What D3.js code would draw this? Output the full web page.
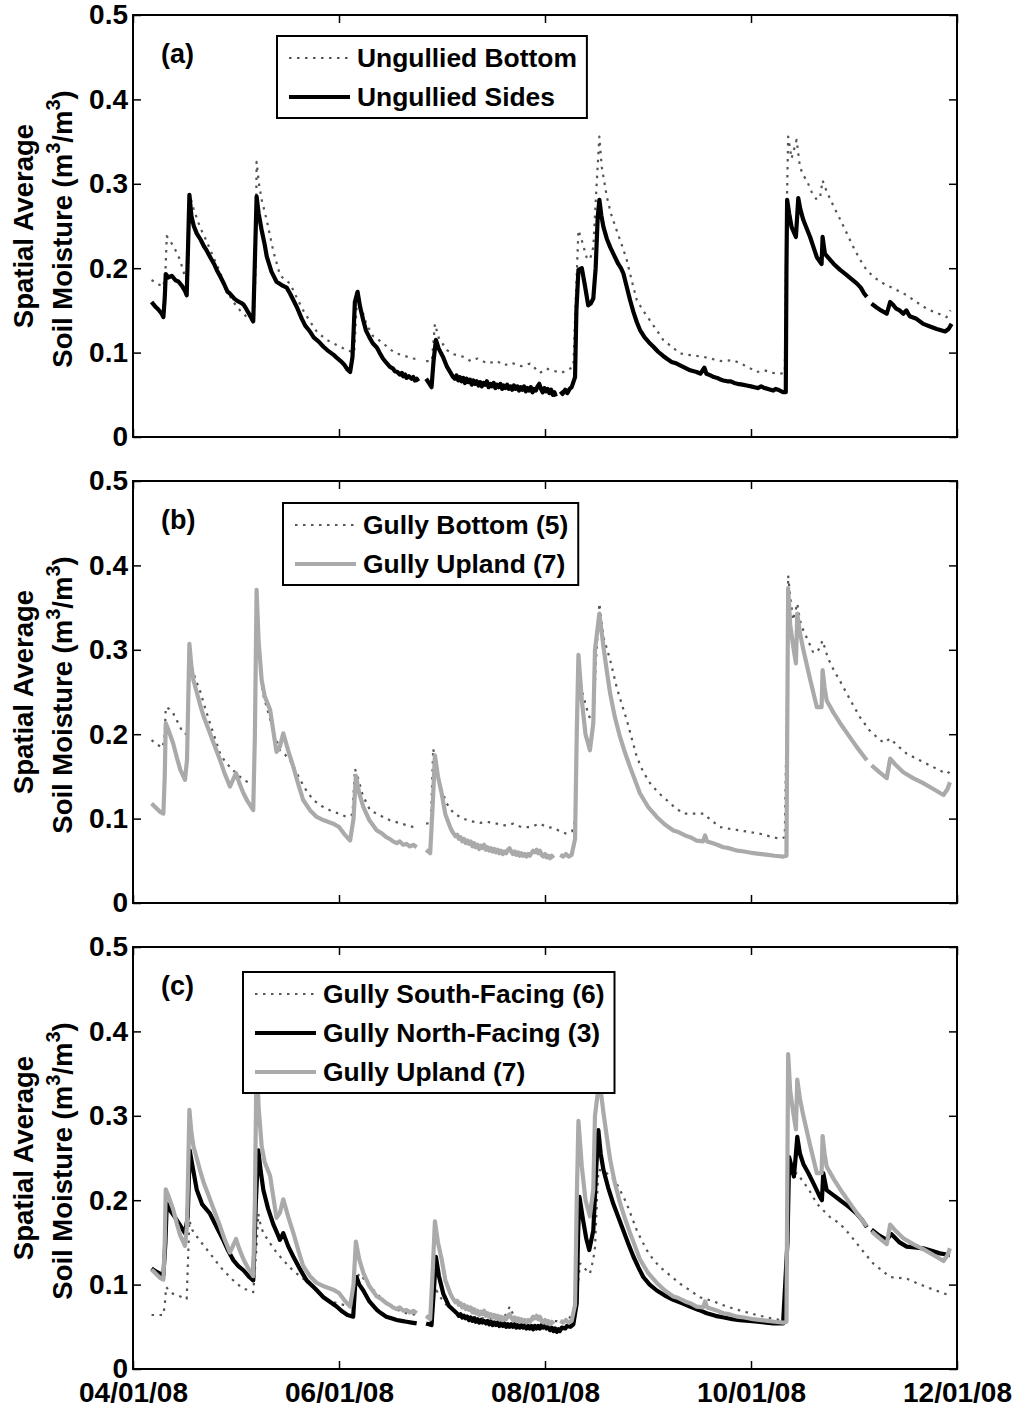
<!DOCTYPE html>
<html>
<head>
<meta charset="utf-8">
<script src="https://cdn.jsdelivr.net/npm/d3@7"></script>
<style>
  body { margin: 0; background: #fff; }
  svg { display: block; font-family: "Liberation Sans", Arial, Helvetica, sans-serif; font-weight: bold; }
</style>
</head>
<body>
<svg id="chart" width="1021" height="1410"></svg>
<script>
// Soil moisture time series, [days since 04/01/08, m3/m3]; null marks a data gap.
const ungulliedBottom = [[5.5,.186],[7.0,.182],[9.0,.178],[9.6,.195],[10.0,.238],[11.5,.229],[12.5,.222],[13.9,.210],[15.4,.190],[16.2,.182],[16.7,.270],[17.2,.281],[17.9,.271],[19.8,.249],[21.8,.232],[23.8,.213],[25.8,.195],[27.7,.174],[29.7,.160],[31.7,.150],[33.0,.145],[34.1,.140],[35.8,.138],[36.3,.200],[36.6,.326],[37.3,.300],[38.1,.281],[39.6,.257],[41.5,.221],[43.5,.192],[45.0,.186],[46.5,.182],[48.5,.165],[50.4,.150],[52.4,.137],[54.4,.125],[57.0,.116],[59.3,.111],[61.3,.107],[63.3,.103],[65.5,.100],[66.0,.140],[66.5,.172],[67.5,.155],[69.0,.135],[71.0,.120],[74.1,.111],[76.0,.104],[78.1,.099],[80.5,.096],[83.0,.093],[84.5,.092],[85.5,null],[86.8,.090],[88.5,.090],[89.4,.134],[90.5,.118],[92.9,.103],[95.0,.098],[97.8,.095],[100.0,.090],[102.0,.093],[105.0,.087],[107.7,.090],[110.0,.085],[112.0,.088],[115.0,.084],[117.6,.087],[120.5,.076],[122.5,.081],[124.0,.079],[126.9,.076],[128.4,.079],[130.4,.083],[131.0,.150],[131.9,.245],[132.9,.233],[134.3,.213],[135.3,.210],[136.3,.225],[137.3,.300],[138.1,.356],[138.8,.320],[140.3,.285],[141.5,.265],[143.2,.245],[144.7,.228],[146.2,.210],[147.7,.185],[149.2,.162],[151.0,.150],[153.1,.138],[155.0,.127],[157.0,.115],[159.5,.107],[162.0,.099],[165.0,.097],[168.9,.095],[171.0,.093],[174.0,.090],[177.8,.091],[180.0,.087],[182.5,.082],[184.7,.077],[187.0,.079],[189.5,.076],[191.6,.075],[193.0,.076],[193.5,.250],[194.0,.356],[195.0,.330],[196.5,.352],[197.5,.320],[198.5,.310],[199.5,.304],[201.0,.290],[202.5,.281],[203.5,.285],[204.2,.304],[205.5,.290],[207.5,.273],[209.5,.257],[211.4,.241],[213.3,.225],[215.3,.210],[217.2,.198],[219.2,.190],[221.7,.183],[224.2,.178],[226.7,.173],[229.1,.168],[232.0,.160],[235.0,.152],[238.0,.147],[240.9,.142],[242.1,.150]];

const ungulliedSides = [[5.5,.160],[6.5,.155],[7.5,.151],[8.5,.146],[9.0,.142],[9.4,.165],[9.7,.193],[10.5,.189],[11.5,.191],[12.5,.186],[13.5,.184],[14.5,.179],[15.4,.173],[15.9,.168],[16.3,.225],[16.7,.287],[17.3,.262],[18.0,.250],[18.9,.241],[20.0,.234],[21.0,.226],[21.8,.221],[23.0,.212],[24.0,.205],[24.8,.198],[26.0,.189],[27.0,.181],[28.0,.172],[28.7,.170],[30.0,.164],[31.0,.161],[32.0,.159],[32.7,.157],[33.5,.152],[34.5,.145],[35.6,.137],[36.1,.210],[36.6,.285],[37.2,.265],[38.1,.245],[39.0,.228],[39.6,.214],[41.0,.196],[42.5,.184],[44.0,.180],[45.5,.177],[46.5,.170],[47.5,.162],[48.5,.154],[50.0,.140],[51.0,.132],[52.4,.125],[53.5,.118],[55.0,.113],[56.4,.107],[57.5,.103],[58.5,.100],[59.5,.097],[60.3,.094],[61.5,.090],[62.5,.086],[63.5,.080],[64.3,.077],[65.0,.095],[65.7,.160],[66.5,.172],[67.2,.155],[68.2,.138],[69.0,.126],[70.0,.118],[71.0,.111],[72.2,.106],[73.0,.100],[74.0,.093],[75.0,.088],[76.1,.083],[77.0,.081],[77.5,.078],[78.3,.077],[79.0,.074],[79.6,.076],[80.0,.072],[80.6,.074],[81.0,.070],[81.7,.072],[82.5,.069],[83.0,.071],[83.5,.067],[84.0,.069],[84.5,.066],[85.5,null],[86.8,.069],[87.8,.063],[88.4,.059],[89.0,.090],[89.7,.115],[90.5,.105],[91.9,.094],[93.0,.083],[94.8,.071],[95.3,.069],[95.8,.073],[96.3,.067],[96.8,.071],[97.3,.066],[97.8,.070],[98.3,.064],[98.8,.069],[99.3,.065],[99.8,.068],[100.3,.062],[100.8,.067],[101.3,.063],[101.8,.066],[102.3,.061],[102.8,.065],[103.3,.060],[103.8,.064],[104.3,.062],[104.8,.066],[105.3,.059],[105.8,.063],[106.3,.060],[106.8,.064],[107.3,.058],[107.8,.062],[108.3,.059],[108.8,.063],[109.3,.057],[109.8,.061],[110.3,.058],[110.8,.062],[111.3,.057],[111.8,.060],[112.3,.056],[112.8,.061],[113.3,.057],[113.8,.060],[114.3,.055],[114.8,.059],[115.3,.056],[115.8,.060],[116.3,.054],[116.8,.058],[117.3,.055],[117.8,.059],[118.3,.053],[118.8,.057],[119.3,.055],[119.8,.060],[120.3,.063],[120.8,.057],[121.3,.053],[121.8,.058],[122.3,.054],[122.8,.057],[123.3,.052],[123.8,.056],[124.3,.050],[124.8,.053],[125.2,.048],[125.8,null],[126.6,.054],[127.2,.051],[128.0,.056],[128.6,.052],[129.3,.057],[129.9,.059],[130.9,.071],[131.3,.150],[131.9,.198],[132.9,.200],[133.8,.180],[134.8,.156],[135.5,.158],[136.3,.164],[137.0,.200],[137.6,.260],[138.1,.281],[138.7,.262],[139.3,.249],[140.3,.235],[141.3,.225],[142.5,.215],[143.7,.205],[144.5,.200],[145.2,.194],[146.2,.178],[147.2,.162],[148.2,.148],[149.2,.136],[150.1,.127],[151.5,.118],[152.8,.112],[154.1,.107],[155.5,.101],[157.0,.096],[158.0,.093],[159.5,.089],[161.0,.087],[162.0,.085],[163.5,.082],[165.0,.079],[166.9,.077],[168.0,.075],[169.2,.082],[169.8,.075],[171.0,.073],[172.0,.071],[173.0,.070],[174.0,.068],[174.8,.067],[176.0,.066],[177.0,.066],[178.0,.064],[179.0,.063],[180.5,.062],[181.7,.061],[183.0,.060],[184.0,.059],[185.0,.058],[186.0,.060],[187.0,.058],[188.0,.057],[189.6,.055],[190.3,.057],[191.0,.056],[192.0,.054],[192.6,.053],[193.3,.053],[193.5,.200],[193.7,.281],[194.3,.265],[195.0,.249],[196.3,.237],[197.0,.283],[197.6,.270],[198.5,.257],[199.5,.247],[200.5,.237],[201.5,.225],[202.5,.213],[203.9,.205],[204.2,.237],[204.6,.225],[204.9,.217],[206.0,.212],[207.5,.205],[209.4,.198],[211.0,.193],[212.5,.188],[214.3,.182],[215.5,.177],[216.5,.170],[217.3,.166],[218.0,null],[218.7,.158],[220.0,.154],[221.5,.150],[223.2,.146],[224.2,.160],[225.0,.157],[226.0,.152],[227.0,.150],[228.1,.146],[229.0,.150],[230.0,.143],[232.0,.140],[234.0,.134],[236.0,.131],[238.0,.128],[240.5,.125],[241.5,.128],[242.4,.134]];

const gullyBottom = [[5.5,.193],[7.0,.188],[8.8,.184],[9.4,.200],[9.7,.232],[10.8,.230],[11.9,.225],[13.5,.212],[14.9,.201],[16.2,.200],[16.7,.270],[17.4,.280],[18.5,.265],[19.8,.252],[21.3,.232],[22.8,.213],[24.3,.195],[25.8,.177],[27.2,.168],[28.7,.161],[30.7,.153],[32.7,.146],[34.6,.142],[36.0,.145],[36.6,.360],[37.3,.300],[38.3,.250],[39.6,.232],[41.5,.205],[43.5,.181],[45.0,.176],[46.5,.169],[48.0,.158],[49.5,.146],[51.5,.132],[53.4,.122],[55.8,.115],[58.3,.110],[60.8,.106],[63.3,.102],[65.0,.105],[65.7,.159],[66.5,.150],[68.0,.128],[70.2,.110],[73.0,.104],[76.1,.098],[79.5,.094],[83.0,.090],[84.5,.090],[85.5,null],[86.8,.094],[88.2,.095],[88.9,.183],[89.8,.160],[90.8,.140],[92.9,.118],[95.0,.106],[97.8,.100],[100.0,.097],[102.7,.095],[105.0,.096],[107.7,.094],[110.0,.092],[112.6,.094],[115.0,.090],[117.6,.090],[120.5,.094],[122.5,.090],[124.5,.089],[126.5,.085],[128.4,.082],[130.0,.085],[130.9,.098],[131.5,.200],[132.0,.280],[133.0,.250],[134.8,.224],[136.3,.210],[137.0,.280],[138.1,.355],[139.3,.315],[141.3,.288],[143.2,.256],[144.7,.236],[146.2,.217],[147.7,.195],[149.2,.173],[151.0,.156],[153.1,.142],[155.5,.131],[158.0,.122],[160.5,.113],[163.0,.106],[166.0,.106],[168.9,.106],[171.5,.097],[173.8,.090],[176.5,.088],[179.7,.086],[182.7,.084],[185.7,.082],[188.5,.079],[191.6,.076],[193.0,.078],[193.7,.250],[194.0,.388],[194.7,.360],[195.5,.335],[196.7,.355],[197.5,.335],[198.5,.323],[200.0,.310],[201.5,.296],[203.0,.300],[204.2,.311],[205.8,.290],[207.5,.276],[209.5,.262],[211.4,.248],[213.3,.234],[215.3,.220],[218.0,.205],[221.2,.193],[222.5,.190],[224.2,.195],[226.5,.186],[229.1,.177],[232.0,.171],[235.0,.165],[238.0,.159],[240.9,.153],[242.0,.156]];

const gullyUpland = [[5.5,.118],[7.0,.112],[8.0,.108],[9.0,.106],[9.4,.150],[9.7,.213],[10.5,.205],[11.9,.189],[13.0,.172],[14.0,.158],[15.4,.146],[16.0,.170],[16.7,.307],[17.3,.280],[17.9,.264],[19.0,.248],[19.8,.236],[21.0,.220],[22.8,.201],[24.0,.188],[25.8,.169],[27.0,.155],[28.7,.138],[29.5,.145],[30.5,.154],[31.5,.142],[32.7,.130],[34.0,.120],[35.6,.110],[36.1,.200],[36.6,.371],[37.2,.310],[38.1,.264],[39.0,.245],[40.6,.229],[41.5,.205],[42.5,.179],[43.5,.185],[44.5,.201],[46.0,.180],[47.5,.161],[49.0,.140],[50.4,.122],[52.4,.110],[54.4,.102],[56.5,.098],[59.3,.094],[61.0,.090],[62.5,.082],[64.3,.074],[65.3,.100],[66.0,.151],[67.0,.130],[68.2,.114],[70.0,.098],[72.2,.086],[73.5,.083],[75.0,.078],[76.0,.076],[77.0,.073],[78.1,.071],[79.0,.073],[80.0,.069],[81.0,.070],[82.0,.067],[83.0,.069],[84.0,.066],[85.5,null],[86.8,.063],[88.0,.059],[88.8,.120],[89.4,.175],[90.3,.150],[91.4,.130],[92.5,.105],[93.9,.090],[94.5,.085],[95.0,.082],[95.5,.079],[96.0,.081],[96.5,.076],[97.0,.078],[97.5,.073],[98.0,.076],[98.5,.071],[99.0,.074],[99.5,.070],[100.0,.073],[100.5,.067],[101.0,.071],[101.5,.066],[102.0,.069],[102.5,.064],[103.0,.068],[103.5,.065],[104.0,.069],[104.5,.063],[105.0,.066],[105.5,.062],[106.0,.065],[106.5,.061],[107.0,.064],[107.5,.060],[108.0,.063],[108.5,.059],[109.0,.062],[109.5,.058],[110.0,.061],[110.5,.059],[111.0,.063],[111.5,.065],[112.0,.061],[112.5,.058],[113.0,.061],[113.5,.057],[114.0,.060],[114.5,.056],[115.0,.059],[115.5,.056],[116.0,.058],[116.5,.055],[117.0,.058],[117.5,.056],[118.0,.059],[118.5,.062],[119.0,.060],[119.5,.063],[120.0,.059],[120.5,.062],[121.0,.057],[121.5,.055],[122.0,.058],[122.5,.054],[123.0,.056],[123.5,.053],[124.0,.056],[124.5,.053],[125.5,null],[126.5,.057],[127.4,.055],[128.2,.058],[129.0,.055],[129.9,.057],[130.9,.076],[131.4,.200],[131.9,.294],[132.9,.240],[134.0,.200],[135.3,.181],[136.3,.213],[136.8,.300],[138.1,.343],[139.3,.304],[140.3,.275],[141.3,.248],[142.7,.220],[144.2,.197],[145.7,.178],[147.2,.161],[148.7,.145],[150.1,.130],[152.5,.114],[155.1,.102],[157.5,.093],[160.0,.086],[161.5,.084],[163.5,.080],[165.0,.078],[166.9,.074],[168.8,.073],[169.4,.080],[170.0,.073],[171.5,.071],[173.0,.069],[174.8,.066],[176.5,.065],[178.0,.063],[179.0,.062],[181.0,.061],[183.7,.059],[186.0,.058],[188.0,.057],[190.0,.056],[192.6,.055],[193.5,.056],[193.8,.250],[194.0,.373],[194.6,.330],[195.5,.304],[196.3,.284],[196.7,.343],[197.5,.320],[198.5,.300],[200.5,.265],[202.5,.232],[203.9,.232],[204.2,.276],[204.8,.255],[205.4,.240],[207.5,.225],[209.4,.213],[212.0,.198],[214.3,.185],[216.0,.176],[217.3,.169],[218.0,null],[218.7,.163],[221.0,.155],[223.2,.148],[224.2,.171],[225.5,.165],[228.1,.155],[231.0,.148],[234.0,.142],[237.0,.135],[240.0,.128],[241.2,.135],[241.9,.143]];

const gullySouth = [[5.5,.064],[7.0,.064],[9.0,.064],[9.5,.080],[9.8,.097],[10.8,.093],[11.9,.089],[14.0,.086],[15.9,.083],[16.3,.130],[16.7,.176],[17.5,.165],[18.9,.157],[20.8,.147],[22.8,.137],[24.7,.127],[26.7,.117],[28.7,.109],[30.7,.101],[33.0,.095],[35.6,.091],[36.5,.140],[37.1,.184],[37.8,.170],[38.6,.161],[40.6,.149],[42.5,.138],[44.5,.129],[46.5,.120],[48.5,.113],[50.4,.107],[52.4,.101],[54.4,.093],[56.4,.085],[58.3,.081],[60.3,.078],[62.3,.076],[64.3,.074],[65.5,.090],[66.5,.110],[67.2,.113],[68.7,.105],[70.2,.098],[72.0,.090],[74.1,.082],[77.0,.072],[81.0,.066],[84.0,.064],[85.5,null],[86.8,.062],[88.3,.062],[89.3,.090],[89.9,.093],[91.0,.085],[93.0,.075],[96.0,.066],[100.0,.062],[104.0,.060],[108.0,.060],[110.0,.062],[111.6,.074],[113.0,.060],[116.0,.058],[119.0,.058],[120.5,.058],[124.0,.057],[128.4,.056],[131.0,.070],[132.0,.110],[132.4,.125],[133.5,.120],[135.3,.113],[136.3,.130],[136.8,.144],[137.4,.200],[137.8,.236],[139.0,.235],[140.3,.232],[141.8,.227],[143.2,.220],[144.7,.208],[146.2,.196],[147.7,.180],[149.2,.164],[150.7,.152],[152.1,.141],[154.0,.130],[156.0,.121],[159.0,.111],[162.0,.101],[165.0,.093],[167.9,.085],[172.0,.080],[175.8,.074],[180.0,.069],[184.7,.064],[188.0,.061],[191.6,.058],[193.0,.058],[193.7,.130],[194.3,.240],[195.1,.228],[196.5,.232],[198.5,.222],[200.5,.210],[202.5,.196],[204.4,.188],[206.4,.180],[208.3,.175],[210.3,.168],[212.3,.159],[214.3,.149],[216.7,.137],[219.2,.125],[221.7,.117],[224.2,.109],[226.7,.108],[229.1,.107],[232.0,.102],[235.0,.097],[238.5,.092],[241.9,.087]];

const gullyNorth = [[5.5,.119],[7.0,.115],[9.0,.111],[9.6,.150],[10.0,.196],[11.0,.188],[12.4,.180],[14.0,.170],[15.4,.161],[16.2,.180],[16.8,.259],[17.4,.245],[18.9,.212],[20.5,.195],[22.8,.184],[24.8,.168],[26.7,.153],[28.2,.140],[29.7,.129],[31.2,.122],[32.7,.117],[34.2,.110],[35.6,.105],[36.4,.200],[37.1,.259],[37.8,.235],[38.6,.212],[40.0,.190],[41.5,.172],[43.0,.158],[43.5,.153],[44.5,.161],[46.0,.145],[47.5,.133],[49.5,.118],[51.4,.105],[54.0,.095],[56.4,.085],[58.5,.079],[60.3,.074],[62.0,.068],[63.5,.064],[65.2,.062],[65.8,.100],[66.2,.109],[67.0,.100],[68.2,.093],[70.0,.080],[72.2,.070],[73.5,.066],[75.0,.062],[76.5,.060],[78.1,.058],[79.5,.057],[81.0,.056],[82.5,.055],[84.0,.054],[85.5,null],[86.8,.054],[88.4,.052],[89.2,.100],[89.7,.133],[90.6,.110],[91.9,.089],[93.5,.075],[95.9,.066],[96.5,.063],[97.0,.065],[97.5,.061],[98.0,.063],[98.5,.060],[99.0,.062],[99.5,.058],[100.0,.061],[100.5,.057],[101.0,.060],[101.5,.056],[102.0,.059],[102.5,.055],[103.0,.058],[103.5,.055],[104.0,.057],[104.5,.054],[105.0,.057],[105.5,.053],[106.0,.056],[106.5,.052],[107.0,.055],[107.5,.052],[108.0,.055],[108.5,.051],[109.0,.054],[109.5,.051],[110.0,.054],[110.5,.050],[111.0,.053],[111.5,.050],[112.0,.053],[112.5,.050],[113.0,.053],[113.5,.049],[114.0,.052],[114.5,.049],[115.0,.052],[115.5,.049],[116.0,.052],[116.5,.048],[117.0,.051],[117.5,.048],[118.0,.051],[118.5,.047],[119.0,.051],[119.5,.048],[120.0,.051],[120.5,.048],[121.0,.052],[121.5,.049],[122.0,.052],[122.5,.048],[123.0,.051],[123.5,.046],[124.0,.049],[124.5,.045],[125.0,.048],[125.5,.044],[126.0,.047],[126.4,.045],[127.0,.049],[128.0,.048],[128.5,.051],[129.5,.050],[130.4,.053],[131.4,.078],[131.8,.160],[132.2,.204],[133.3,.176],[134.2,.155],[135.1,.141],[136.3,.164],[137.2,.240],[137.8,.283],[138.5,.255],[139.3,.236],[140.7,.215],[142.2,.196],[143.7,.180],[145.2,.164],[146.7,.148],[148.2,.133],[149.7,.120],[151.1,.109],[153.0,.100],[155.1,.093],[157.5,.087],[160.0,.082],[162.5,.078],[164.9,.074],[167.5,.070],[169.9,.066],[172.5,.063],[175.0,.061],[177.5,.059],[179.7,.058],[182.5,.057],[185.0,.056],[187.5,.055],[189.6,.054],[192.5,.054],[193.8,.150],[194.3,.251],[195.0,.240],[195.7,.228],[196.2,.250],[196.7,.275],[197.5,.255],[198.5,.243],[200.0,.232],[201.5,.220],[203.4,.204],[204.0,.200],[204.4,.232],[205.4,.212],[207.4,.206],[209.4,.200],[212.0,.192],[214.3,.184],[216.0,.176],[217.3,.168],[218.0,null],[218.7,.165],[221.0,.158],[223.2,.153],[224.5,.160],[225.5,.156],[227.0,.150],[229.1,.145],[231.5,.144],[234.0,.143],[236.5,.140],[238.9,.137],[240.5,.136],[241.9,.135]];

// Axis ticks
const yTickValues = [0, 0.1, 0.2, 0.3, 0.4, 0.5];
const yTickLabels = ["0", "0.1", "0.2", "0.3", "0.4", "0.5"];
const xTickLabels = ["04/01/08", "06/01/08", "08/01/08", "10/01/08", "12/01/08"];

const parseDate = d3.timeParse("%m/%d/%y");
const xTickDates = xTickLabels.map(parseDate);
const startDate = xTickDates[0];
const toDate = day => new Date(startDate.getTime() + day * 864e5);

const styles = {
  dotted: { stroke: "#555", width: 2.2, dash: "2.5,5.5" },
  black:  { stroke: "#000", width: 4.2, dash: null },
  gray:   { stroke: "#aaa", width: 4.2, dash: null }
};

const panels = [
  { top: 15, tag: "(a)", legend: { x: 277, dy: 21 },
    series: [
      { name: "Ungullied Bottom", data: ungulliedBottom, style: "dotted" },
      { name: "Ungullied Sides", data: ungulliedSides, style: "black" }
    ] },
  { top: 481, tag: "(b)", legend: { x: 283, dy: 22 },
    series: [
      { name: "Gully Bottom (5)", data: gullyBottom, style: "dotted" },
      { name: "Gully Upland (7)", data: gullyUpland, style: "gray" }
    ] },
  { top: 947, tag: "(c)", legend: { x: 243, dy: 25 },
    series: [
      { name: "Gully South-Facing (6)", data: gullySouth, style: "dotted" },
      { name: "Gully North-Facing (3)", data: gullyNorth, style: "black" },
      { name: "Gully Upland (7)", data: gullyUpland, style: "gray" }
    ] }
];

const left = 133, right = 957, panelH = 422;
const svg = d3.select("#chart");

const x = d3.scaleTime().domain([xTickDates[0], xTickDates[xTickDates.length - 1]]).range([left, right]);

panels.forEach((p, pi) => {
  const y = d3.scaleLinear().domain([0, 0.5]).range([p.top + panelH, p.top]);
  const g = svg.append("g");

  const clipId = "clip" + pi;
  svg.append("clipPath").attr("id", clipId)
    .append("rect").attr("x", left).attr("y", p.top).attr("width", right - left).attr("height", panelH);

  const line = d3.line()
    .defined(d => d[1] != null)
    .x(d => x(toDate(d[0])))
    .y(d => y(d[1]));

  const lines = g.append("g").attr("clip-path", `url(#${clipId})`);
  p.series.forEach(s => {
    const st = styles[s.style];
    lines.append("path")
      .datum(s.data)
      .attr("d", line)
      .attr("fill", "none")
      .attr("stroke", st.stroke)
      .attr("stroke-width", st.width)
      .attr("stroke-dasharray", st.dash)
      .attr("stroke-linejoin", "round");
  });

  // Axes with inward ticks on all four sides
  const fmtY = (d, i) => yTickLabels[i];
  g.append("g").attr("transform", `translate(${left},0)`)
    .call(d3.axisLeft(y).tickValues(yTickValues).tickFormat(fmtY).tickSize(-8).tickSizeOuter(0).tickPadding(5));
  g.append("g").attr("transform", `translate(${right},0)`)
    .call(d3.axisRight(y).tickValues(yTickValues).tickFormat("").tickSize(-8).tickSizeOuter(0));
  g.append("g").attr("transform", `translate(0,${p.top + panelH})`)
    .call(d3.axisBottom(x).tickValues(xTickDates)
      .tickFormat((d, i) => pi === panels.length - 1 ? xTickLabels[i] : "")
      .tickSize(-8).tickSizeOuter(0).tickPadding(13));
  g.append("g").attr("transform", `translate(0,${p.top})`)
    .call(d3.axisTop(x).tickValues(xTickDates).tickFormat("").tickSize(-8).tickSizeOuter(0));

  g.selectAll(".domain").remove();
  g.selectAll(".tick line").attr("stroke", "#000").attr("stroke-width", 1.5);
  g.selectAll(".tick text").attr("font-size", 28).attr("font-weight", "bold")
    .attr("font-family", '"Liberation Sans", Arial, sans-serif').attr("fill", "#000");

  g.append("rect").attr("x", left).attr("y", p.top).attr("width", right - left).attr("height", panelH)
    .attr("fill", "none").attr("stroke", "#000").attr("stroke-width", 2);

  // Panel tag
  g.append("text").attr("x", 161).attr("y", p.top + 48).attr("font-size", 27).text(p.tag);

  // Legend
  const lg = g.append("g");
  const lx = p.legend.x, ly = p.top + p.legend.dy;
  const rowGap = 39, firstRow = 22;
  const box = lg.append("rect").attr("x", lx).attr("y", ly).attr("fill", "#fff")
    .attr("stroke", "#000").attr("stroke-width", 2);
  let maxW = 0;
  p.series.forEach((s, i) => {
    const st = styles[s.style];
    const cy = ly + firstRow + i * rowGap;
    lg.append("line").attr("x1", lx + 12).attr("x2", lx + 73).attr("y1", cy).attr("y2", cy)
      .attr("stroke", st.stroke).attr("stroke-width", st.width).attr("stroke-dasharray", st.dash);
    const t = lg.append("text").attr("x", lx + 80).attr("y", cy + 9).attr("font-size", 26.4).text(s.name);
    maxW = Math.max(maxW, t.node().getComputedTextLength());
  });
  box.attr("width", 80 + maxW + 10).attr("height", firstRow + (p.series.length - 1) * rowGap + 21);

  // Y axis title
  const cy = p.top + panelH / 2;
  const title = g.append("g").attr("transform", `translate(0,${cy}) rotate(-90)`);
  title.append("text").attr("x", 0).attr("y", 33).attr("text-anchor", "middle").attr("font-size", 27.5)
    .text("Spatial Average");
  const t2 = title.append("text").attr("x", -3).attr("y", 72).attr("text-anchor", "middle").attr("font-size", 27.5);
  t2.append("tspan").text("Soil Moisture (m");
  t2.append("tspan").attr("font-size", 20).attr("dy", -12).text("3");
  t2.append("tspan").attr("dy", 12).text("/m");
  t2.append("tspan").attr("font-size", 20).attr("dy", -12).text("3");
  t2.append("tspan").attr("dy", 12).text(")");
});
</script>
</body>
</html>
